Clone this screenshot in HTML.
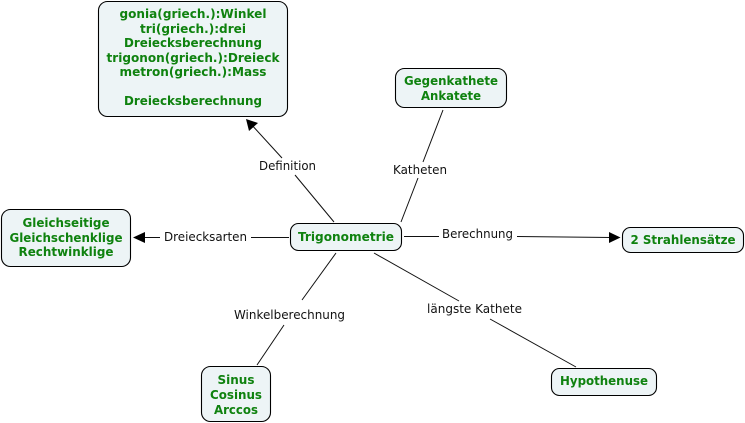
<!DOCTYPE html>
<html><head><meta charset="utf-8"><style>
html,body{margin:0;padding:0;background:#fff;width:745px;height:423px;overflow:hidden}
svg{display:block}
.n{fill:#edf4f6;stroke:#000;stroke-width:1.1}
.t{font:bold 12px "DejaVu Sans",sans-serif;fill:#0f820f;text-anchor:middle}
.l{font:12px "DejaVu Sans",sans-serif;fill:#111}
.c{stroke:#111;stroke-width:1;fill:none}
</style></head><body>
<svg width="745" height="423" viewBox="0 0 745 423" xmlns="http://www.w3.org/2000/svg">
<path class="c" d="M334 222L295 175M282 158L250 123"/>
<polygon points="246,119 258,123 249,131" fill="#000"/>
<path class="c" d="M443 110L423 162M418 178L401 222"/>
<path class="c" d="M289 237.500H251M160 237.500H142"/>
<polygon points="133,237.500 145,232 145,243" fill="#000"/>
<path class="c" d="M404 236.500H439M517 236.500L611 237.500"/>
<polygon points="620.500,237.500 609,232 609,243" fill="#000"/>
<path class="c" d="M336 253L302 300M284 325L257 365"/>
<path class="c" d="M374 253L459 301M490 319L576 367"/>

<rect class="n" x="98.500" y="1.500" width="189" height="115" rx="9"/>
<rect class="n" x="395.500" y="68.500" width="111" height="39" rx="9"/>
<rect class="n" x="290.500" y="223.500" width="111" height="27" rx="8"/>
<rect class="n" x="1.500" y="209.500" width="129" height="57" rx="9"/>
<rect class="n" x="622.500" y="227.500" width="121" height="25" rx="8"/>
<rect class="n" x="201.500" y="366.500" width="69" height="55" rx="9"/>
<rect class="n" x="551.500" y="368.500" width="105" height="27" rx="8"/>

<text class="t" x="193" y="18" textLength="147" lengthAdjust="spacingAndGlyphs">gonia(griech.):Winkel</text>
<text class="t" x="193" y="33" textLength="106" lengthAdjust="spacingAndGlyphs">tri(griech.):drei</text>
<text class="t" x="193" y="47" textLength="138" lengthAdjust="spacingAndGlyphs">Dreiecksberechnung</text>
<text class="t" x="193" y="62" textLength="173" lengthAdjust="spacingAndGlyphs">trigonon(griech.):Dreieck</text>
<text class="t" x="193" y="76" textLength="147" lengthAdjust="spacingAndGlyphs">metron(griech.):Mass</text>
<text class="t" x="193" y="105" textLength="138" lengthAdjust="spacingAndGlyphs">Dreiecksberechnung</text>

<text class="t" x="451" y="85" textLength="94" lengthAdjust="spacingAndGlyphs">Gegenkathete</text>
<text class="t" x="451" y="100" textLength="60" lengthAdjust="spacingAndGlyphs">Ankatete</text>
<text class="t" x="346" y="241" textLength="96" lengthAdjust="spacingAndGlyphs">Trigonometrie</text>
<text class="t" x="66" y="227" textLength="87" lengthAdjust="spacingAndGlyphs">Gleichseitige</text>
<text class="t" x="66" y="242" textLength="113" lengthAdjust="spacingAndGlyphs">Gleichschenklige</text>
<text class="t" x="66" y="256" textLength="95" lengthAdjust="spacingAndGlyphs">Rechtwinklige</text>
<text class="t" x="683" y="244" textLength="105" lengthAdjust="spacingAndGlyphs">2 Strahlensätze</text>
<text class="t" x="236" y="384" textLength="37" lengthAdjust="spacingAndGlyphs">Sinus</text>
<text class="t" x="236" y="399" textLength="52" lengthAdjust="spacingAndGlyphs">Cosinus</text>
<text class="t" x="236" y="414" textLength="44" lengthAdjust="spacingAndGlyphs">Arccos</text>
<text class="t" x="604" y="385" textLength="88" lengthAdjust="spacingAndGlyphs">Hypothenuse</text>

<text class="l" x="259" y="170" textLength="57" lengthAdjust="spacingAndGlyphs">Definition</text>
<text class="l" x="393" y="174" textLength="54" lengthAdjust="spacingAndGlyphs">Katheten</text>
<text class="l" x="164" y="241" textLength="83" lengthAdjust="spacingAndGlyphs">Dreiecksarten</text>
<text class="l" x="442" y="238" textLength="71" lengthAdjust="spacingAndGlyphs">Berechnung</text>
<text class="l" x="234" y="319" textLength="111" lengthAdjust="spacingAndGlyphs">Winkelberechnung</text>
<text class="l" x="427" y="313" textLength="95" lengthAdjust="spacingAndGlyphs">längste Kathete</text>
</svg>
</body></html>
